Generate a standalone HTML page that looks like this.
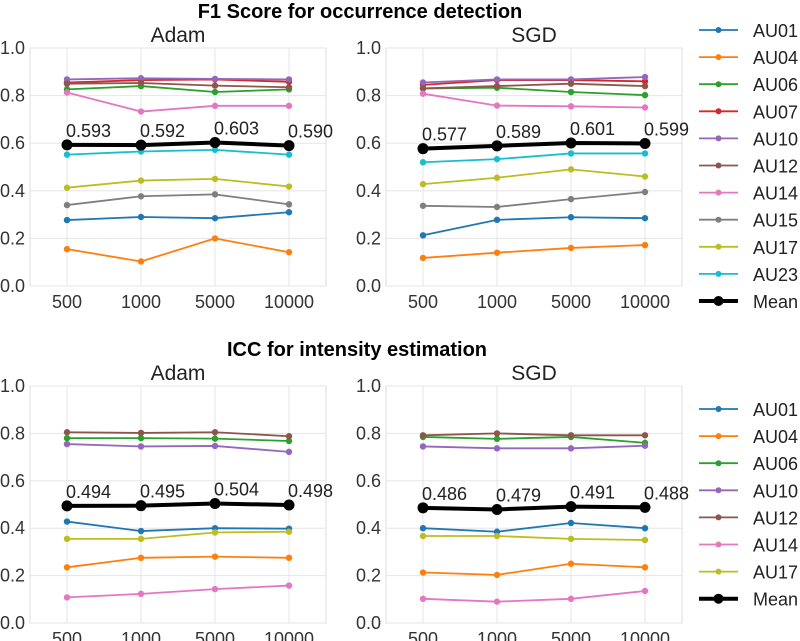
<!DOCTYPE html>
<html><head><meta charset="utf-8"><style>
body{margin:0;background:#fff;width:800px;height:641px;overflow:hidden}
svg{display:block;font-family:"Liberation Sans",sans-serif}
</style></head><body>
<svg id="c" width="800" height="641" viewBox="0 0 800 641">
<text x="360" y="18" text-anchor="middle" font-size="20" font-weight="bold" fill="#000">F1 Score for occurrence detection</text>
<text x="357" y="356" text-anchor="middle" font-size="20" font-weight="bold" fill="#000">ICC for intensity estimation</text>
</svg>
<script>
const categories=["500","1000","5000","10000"];
const yTicks=[0,0.2,0.4,0.6,0.8,1.0];
const colors={AU01:"#1f77b4",AU04:"#ff7f0e",AU06:"#2ca02c",AU07:"#d62728",AU10:"#9467bd",AU12:"#8c564b",AU14:"#e377c2",AU15:"#7f7f7f",AU17:"#bcbd22",AU23:"#17becf"};
const topNames=["AU01","AU04","AU06","AU07","AU10","AU12","AU14","AU15","AU17","AU23"];
const botNames=["AU01","AU04","AU06","AU10","AU12","AU14","AU17"];
const f1Adam_AU01=[.277,.290,.285,.310];
const f1Adam_AU04=[.155,.103,.200,.142];
const f1Adam_AU06=[.826,.840,.815,.826];
const f1Adam_AU07=[.855,.865,.868,.858];
const f1Adam_AU10=[.868,.873,.870,.868];
const f1Adam_AU12=[.850,.853,.842,.835];
const f1Adam_AU14=[.813,.733,.757,.757];
const f1Adam_AU15=[.340,.377,.385,.343];
const f1Adam_AU17=[.413,.443,.450,.418];
const f1Adam_AU23=[.552,.565,.572,.552];
const f1Adam_Mean=[.593,.592,.603,.590];
const f1Sgd_AU01=[.213,.278,.289,.285];
const f1Sgd_AU04=[.118,.140,.160,.172];
const f1Sgd_AU06=[.830,.833,.815,.802];
const f1Sgd_AU07=[.845,.865,.865,.860];
const f1Sgd_AU10=[.855,.868,.868,.878];
const f1Sgd_AU12=[.830,.840,.850,.840];
const f1Sgd_AU14=[.808,.758,.755,.750];
const f1Sgd_AU15=[.337,.332,.365,.395];
const f1Sgd_AU17=[.428,.455,.490,.460];
const f1Sgd_AU23=[.520,.533,.557,.557];
const f1Sgd_Mean=[.577,.589,.601,.599];
const iccAdam_AU01=[.428,.388,.400,.398];
const iccAdam_AU04=[.235,.275,.280,.275];
const iccAdam_AU06=[.780,.780,.778,.768];
const iccAdam_AU10=[.755,.745,.747,.722];
const iccAdam_AU12=[.805,.802,.805,.788];
const iccAdam_AU14=[.108,.123,.143,.158];
const iccAdam_AU17=[.355,.355,.382,.385];
const iccAdam_Mean=[.494,.495,.504,.498];
const iccSgd_AU01=[.400,.385,.422,.400];
const iccSgd_AU04=[.213,.203,.250,.235];
const iccSgd_AU06=[.785,.777,.785,.760];
const iccSgd_AU10=[.745,.737,.737,.748];
const iccSgd_AU12=[.792,.800,.792,.792];
const iccSgd_AU14=[.102,.090,.102,.135];
const iccSgd_AU17=[.367,.367,.355,.350];
const iccSgd_Mean=[.486,.479,.491,.488];

const svg=document.getElementById('c');
const NS="http://www.w3.org/2000/svg";
function mk(tag,at,txt){const e=document.createElementNS(NS,tag);for(const k in at)e.setAttribute(k,at[k]);if(txt!==undefined)e.textContent=txt;svg.appendChild(e);return e;}

function panel(id,title,x0,yTop,yBot,names,series,mean){
  const w=296;
  const xs=i=>x0+(i+0.5)*w/4;
  const ys=v=>yBot-(yBot-yTop)*v;
  let e=mk('rect',{x:x0,y:yTop,width:w,height:yBot-yTop,fill:'#fff',stroke:'#ddd','stroke-width':1});
  
  
  yTicks.forEach(t=>{
    let g=mk('line',{x1:x0,x2:x0+w,y1:ys(t),y2:ys(t),stroke:'#e5e5e5','stroke-width':1});
    
    
    let l=mk('text',{x:x0-5,y:ys(t)+6,'text-anchor':'end','font-size':18,fill:'#333'},t.toFixed(1));
    
    
  });
  categories.forEach((c,i)=>{
    let g=mk('line',{x1:xs(i),x2:xs(i),y1:yTop,y2:yBot,stroke:'#e5e5e5','stroke-width':1});
    
    
    let l=mk('text',{x:xs(i),y:yBot+22,'text-anchor':'middle','font-size':18,fill:'#333'},c);
    
    
  });
  let t=mk('text',{x:x0+w/2,y:yTop-6,'text-anchor':'middle','font-size':21,fill:'#222'},title);
  
  
  names.forEach(n=>{
    const d=series[n];
    let p=mk('polyline',{points:d.map((v,i)=>xs(i)+','+ys(v)).join(' '),fill:'none',stroke:colors[n],'stroke-width':1.8});
    
    
    d.forEach((v,i)=>{
      let c=mk('circle',{cx:xs(i),cy:ys(v),r:3.2,fill:colors[n]});
      
      
    });
  });
  let p=mk('polyline',{points:mean.map((v,i)=>xs(i)+','+ys(v)).join(' '),fill:'none',stroke:'#000','stroke-width':4});
  
  
  mean.forEach((v,i)=>{
    let c=mk('circle',{cx:xs(i),cy:ys(v),r:5.5,fill:'#000'});
    
    
    let l=mk('text',{x:xs(i)-1,y:ys(v)-8,'font-size':18,fill:'#222'},v.toFixed(3));
    
    
  });
}
function legend(id,names,y0){
  names.concat(["Mean"]).forEach((n,i)=>{
    const y=y0+i*27.1;
    const c=n==="Mean"?"#000":colors[n];
    let l=mk('line',{x1:699,x2:738,y1:y,y2:y,stroke:c,'stroke-width':n==="Mean"?4:1.8});
    
    
    let d=mk('circle',{cx:718.5,cy:y,r:n==="Mean"?5:3,fill:c});
    
    
    let t=mk('text',{x:753,y:y+7,'font-size':18,fill:'#222'},n);
    
    
  });
}
const S=(pre,names)=>{const o={};names.forEach(n=>o[n]=eval(pre+'_'+n));return o;};
panel('f1-adam','Adam',30,48,286,topNames,S('f1Adam',topNames),f1Adam_Mean);
panel('f1-sgd','SGD',386,48,286,topNames,S('f1Sgd',topNames),f1Sgd_Mean);
panel('icc-adam','Adam',30,386,623,botNames,S('iccAdam',botNames),iccAdam_Mean);
panel('icc-sgd','SGD',386,386,623,botNames,S('iccSgd',botNames),iccSgd_Mean);
legend('f1',topNames,30);
legend('icc',botNames,409);
</script>
</body></html>
